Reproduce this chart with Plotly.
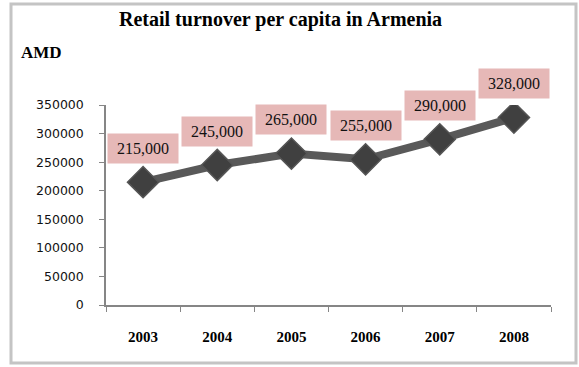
import plotly.graph_objects as go

years = ["2003", "2004", "2005", "2006", "2007", "2008"]
values = [215000, 245000, 265000, 255000, 290000, 328000]
labels = ["215,000", "245,000", "265,000", "255,000", "290,000", "328,000"]
y_ticks = [0, 50000, 100000, 150000, 200000, 250000, 300000, 350000]

W, H = 579, 367
L, R, T, B = 106, 28, 105, 62
pw = W - L - R
ph = H - T - B

def px_x(p):
    return (p - L) / pw

def px_y(p):
    return (H - B - p) / ph

fig = go.Figure()
fig.add_trace(go.Scatter(
    x=years, y=values, mode="lines+markers",
    line=dict(color="#595959", width=8),
    marker=dict(symbol="diamond", size=24, color="#404040",
                line=dict(color="#555555", width=1.5)),
    hoverinfo="skip", showlegend=False,
))

for i, (v, t) in enumerate(zip(values, labels)):
    fig.add_annotation(
        x=i, y=v, xref="x", yref="y", text=t, showarrow=False, yshift=34,
        bgcolor="#e6b8b7", borderpad=5, width=60, height=19,
        font=dict(family="Liberation Serif, DejaVu Serif, serif", size=16, color="#111111"),
    )

fig.add_annotation(
    xref="paper", yref="paper", x=px_x(280), y=px_y(20),
    text="<b>Retail turnover per capita in Armenia</b>", showarrow=False,
    font=dict(family="Liberation Serif, DejaVu Serif, serif", size=20, color="#000000"),
    xanchor="center", yanchor="middle",
)
fig.add_annotation(
    xref="paper", yref="paper", x=px_x(19), y=px_y(52),
    text="<b>AMD</b>", showarrow=False,
    font=dict(family="Liberation Serif, DejaVu Serif, serif", size=17, color="#000000"),
    xanchor="left", yanchor="middle",
)

fig.add_shape(
    type="rect", xref="paper", yref="paper",
    x0=px_x(11), x1=px_x(576), y0=px_y(363), y1=px_y(4),
    line=dict(color="#c4c4c4", width=3), fillcolor="rgba(0,0,0,0)", layer="below",
)

fig.update_layout(
    width=W, height=H,
    margin=dict(l=L, r=R, t=T, b=B),
    paper_bgcolor="white", plot_bgcolor="white",
    xaxis=dict(
        type="category", showgrid=False, showline=True, linecolor="#868686", linewidth=1.5,
        ticks="outside", tickson="boundaries", ticklen=5, tickcolor="#868686",
        tickfont=dict(family="Liberation Serif, DejaVu Serif, serif", size=15, color="#000000"),
        tickprefix="<b>", ticksuffix="</b>",
        range=[-0.5, 5.5], fixedrange=True, ticklabelstandoff=17,
    ),
    yaxis=dict(
        range=[0, 350000], tickvals=y_ticks, ticktext=[str(v) for v in y_ticks],
        showgrid=False, showline=True, linecolor="#868686", linewidth=1.5,
        ticks="outside", ticklen=5, tickcolor="#868686",
        tickfont=dict(family="DejaVu Sans, sans-serif", size=12.5, color="#111111"),
        ticklabelstandoff=13, zeroline=False,
    ),
)

fig.write_html("out.html")
